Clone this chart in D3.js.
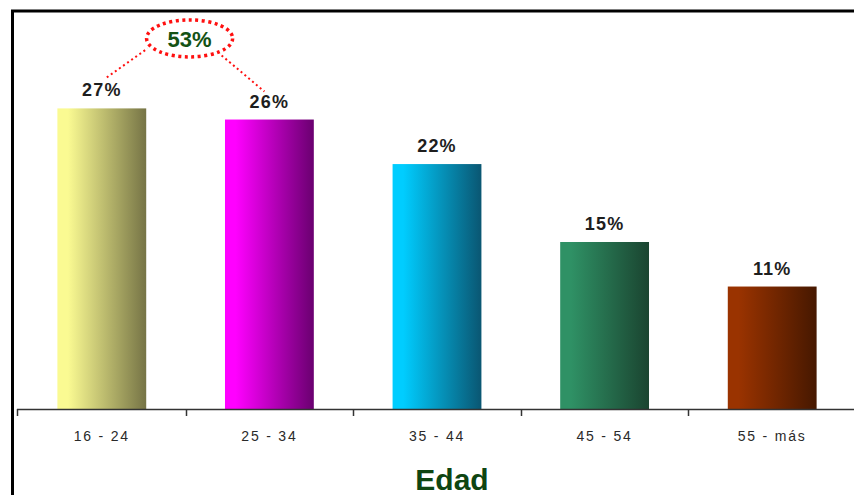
<!DOCTYPE html>
<html>
<head>
<meta charset="utf-8">
<script src="https://cdn.jsdelivr.net/npm/d3@7/dist/d3.min.js"></script>
<style>
  html, body { margin: 0; padding: 0; background: #fff; }
  svg { display: block; }
</style>
</head>
<body>
<svg id="chart" width="854" height="495"></svg>
<script>
// Age groups and their share of respondents (%)
const categories = ["16 - 24", "25 - 34", "35 - 44", "45 - 54", "55 - más"];
const values = [27, 26, 22, 15, 11];
// Left (light) and right (dark) colour of each bar's gradient
const lightColors = ["#fafa92", "#ff00ff", "#00cdff", "#2f9165", "#9a3300"];
const darkColors  = ["#767446", "#6a0070", "#0a5672", "#1a4430", "#461800"];
const axisTitle = "Edad";

const svg = d3.select("#chart");
const W = 854, H = 495;
const baseY = 409;

const x = d3.scaleBand()
  .domain(categories)
  .range([18, 856])
  .paddingInner(0.47)
  .paddingOuter(0.235);

const y = d3.scaleLinear()
  .domain([0, 30])
  .range([baseY, 75]);

// Gradients
const defs = svg.append("defs");
categories.forEach((c, i) => {
  const g = defs.append("linearGradient")
    .attr("id", "grad" + i)
    .attr("x1", "0%").attr("x2", "100%")
    .attr("y1", "0%").attr("y2", "0%");
  g.append("stop").attr("offset", "0%").attr("stop-color", lightColors[i]);
  g.append("stop").attr("offset", "12%").attr("stop-color", lightColors[i]);
  g.append("stop").attr("offset", "100%").attr("stop-color", darkColors[i]);
});

// Frame (top and left edges)
svg.append("path")
  .attr("d", `M12.5,${H} L12.5,11 L${W},11`)
  .attr("fill", "none")
  .attr("stroke", "#000")
  .attr("stroke-width", 3);

// Bars
svg.selectAll("rect.bar")
  .data(values)
  .join("rect")
  .attr("class", "bar")
  .attr("x", (d, i) => x(categories[i]))
  .attr("width", x.bandwidth())
  .attr("y", d => y(d))
  .attr("height", d => baseY - y(d))
  .attr("fill", (d, i) => `url(#grad${i})`);

// Value labels
svg.selectAll("text.val")
  .data(values)
  .join("text")
  .attr("class", "val")
  .attr("x", (d, i) => x(categories[i]) + x.bandwidth() / 2)
  .attr("y", d => y(d) - 12)
  .attr("text-anchor", "middle")
  .attr("font-family", "Liberation Sans, Arial, sans-serif")
  .attr("font-weight", "bold")
  .attr("font-size", 18)
  .attr("letter-spacing", 1.2)
  .attr("fill", "#1e1e1e")
  .text(d => d + "%");

// X axis
const axis = d3.axisBottom(x).tickSize(0).tickPadding(0);
const gx = svg.append("g").attr("transform", `translate(0,${baseY})`);
gx.append("line")
  .attr("x1", 17).attr("x2", W)
  .attr("y1", 0.5).attr("y2", 0.5)
  .attr("stroke", "#333").attr("stroke-width", 1.5);
// boundary ticks between categories
const bounds = categories.map(c => x(c) - x.step() * x.paddingInner() / 2);
bounds[0] = 17;
gx.selectAll("line.tick")
  .data(bounds)
  .join("line")
  .attr("class", "tick")
  .attr("x1", d => Math.round(d) + 0.5).attr("x2", d => Math.round(d) + 0.5)
  .attr("y1", 0).attr("y2", 7)
  .attr("stroke", "#333").attr("stroke-width", 1.5);
gx.call(g => {
  const a = g.append("g").call(axis);
  a.select(".domain").remove();
  a.selectAll("text")
    .attr("y", 32)
    .attr("dy", 0)
    .attr("font-family", "Liberation Sans, Arial, sans-serif")
    .attr("font-size", 14)
    .attr("letter-spacing", 1.8)
    .attr("fill", "#2a2a2a");
});

// Axis title
svg.append("text")
  .attr("x", 452)
  .attr("y", 490)
  .attr("text-anchor", "middle")
  .attr("font-family", "Liberation Sans, Arial, sans-serif")
  .attr("font-weight", "bold")
  .attr("font-size", 30)
  .attr("fill", "#0e4512")
  .text(axisTitle);

// Combined share of the two youngest groups
const total = values[0] + values[1];
const c0 = x(categories[0]) + x.bandwidth() / 2;
const c1 = x(categories[1]) + x.bandwidth() / 2;
const ex = (c0 + c1) / 2 + 4;
const ey = y(values[0]) - 70;

svg.append("line")
  .attr("x1", c0 + 5).attr("y1", y(values[0]) - 31)
  .attr("x2", ex - 42).attr("y2", ey + 10)
  .attr("stroke", "#ff1010").attr("stroke-width", 2)
  .attr("stroke-dasharray", "2,3");
svg.append("line")
  .attr("x1", ex + 32).attr("y1", ey + 17)
  .attr("x2", c1 - 5).attr("y2", y(values[1]) - 28)
  .attr("stroke", "#ff1010").attr("stroke-width", 2)
  .attr("stroke-dasharray", "2,3");

svg.append("ellipse")
  .attr("cx", ex).attr("cy", ey)
  .attr("rx", 43).attr("ry", 18.5)
  .attr("fill", "#fff")
  .attr("stroke", "#ff1010")
  .attr("stroke-width", 3.5)
  .attr("stroke-dasharray", "3,3.5");

svg.append("text")
  .attr("x", ex)
  .attr("y", ey + 9)
  .attr("text-anchor", "middle")
  .attr("font-family", "Liberation Sans, Arial, sans-serif")
  .attr("font-weight", "bold")
  .attr("font-size", 22)
  .attr("fill", "#145214")
  .text(total + "%");
</script>
</body>
</html>
